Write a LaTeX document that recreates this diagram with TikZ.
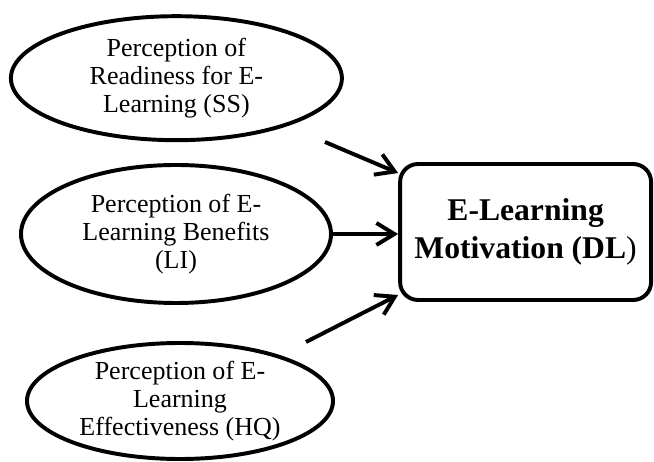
\documentclass[tikz,border=0pt]{standalone}
\usepackage{fontspec}
\setmainfont{Liberation Serif}
\usetikzlibrary{shapes.geometric,arrows.meta}

\begin{document}
\begin{tikzpicture}[
	factor/.style={draw,ellipse,line width=2.8pt,inner sep=0pt,align=center,font=\fontsize{18.5}{19.8}\selectfont},
	target/.style={draw,rectangle,rounded corners=0.45cm,line width=2.8pt,align=center,minimum width=6.275cm,minimum height=3.4cm,font=\fontsize{22.5}{27.5}\selectfont\bfseries},
	link/.style={line width=2.8pt,-{Straight Barb[length=4.5mm,width=5.5mm]}}
	]
			\useasboundingbox (0,0) rectangle (16.35,11.525);
			% the three perceptions
			\node[factor,minimum width=8.275cm,minimum height=3.1cm] (ss) at (4.41,9.57) {Perception of\\Readiness for E-\\Learning (SS)};
			\node[factor,minimum width=7.75cm,minimum height=3.45cm] (li) at (4.40,5.675) {Perception of E-\\Learning Benefits\\(LI)};
			\node[factor,minimum width=7.65cm,minimum height=2.9cm] (hq) at (4.5,1.5) {Perception of E-\\Learning\\Effectiveness (HQ)};
			% motivation
			\node[target] (dl) at (13.14,5.725) {E-Learning\\Motivation (DL\textmd{)}};
			\coordinate (ssout) at (8.125,7.975);
			\coordinate (hqout) at (7.65,2.975);
			\draw[link] (ssout) -- ([yshift=-0.275cm]dl.north west);
			\draw[link] (li.east) -- (dl.west |- li.east);
			\draw[link] (hqout) -- ([yshift=0.175cm]dl.south west);
\end{tikzpicture}
\end{document}
